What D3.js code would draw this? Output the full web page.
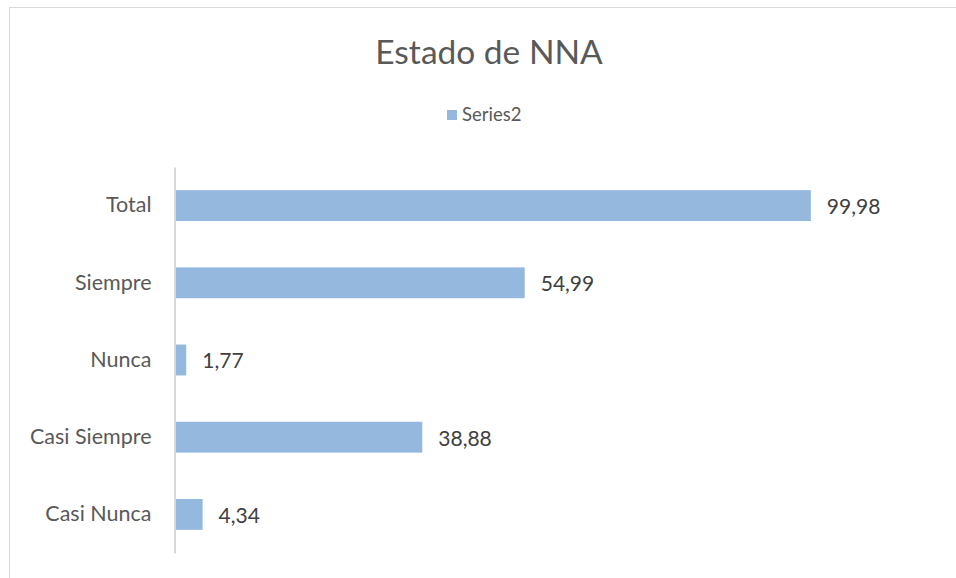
<!DOCTYPE html>
<html>
<head>
<meta charset="utf-8">
<script src="https://cdn.jsdelivr.net/npm/d3@7"></script>
<style>
 body { margin: 0; background: #fff; }
 svg { display: block; font-family: Lato, "Open Sans", sans-serif; }
</style>
</head>
<body>
<div id="chart"></div>
<script>
var categories = ["Total", "Siempre", "Nunca", "Casi Siempre", "Casi Nunca"];
var values = [99.98, 54.99, 1.77, 38.88, 4.34];
var labels = ["99,98", "54,99", "1,77", "38,88", "4,34"];
var seriesName = "Series2";
var title = "Estado de NNA";

var width = 956, height = 578;
var plotLeft = 175, plotRight = 811, plotTop = 167, plotBottom = 553;

var svg = d3.select("#chart").
 append("svg").
 attr("width", width).
 attr("height", height);

// chart border (right and bottom run off the picture)
svg.append("rect").
 attr("x", 9.5).attr("y", 7.5).
 attr("width", 960).attr("height", 590).
 attr("fill", "#fff").
 attr("stroke", "#d9d9d9").
 attr("stroke-width", 1);

var x = d3.scaleLinear().domain([0, 100]).range([plotLeft, plotRight]);
var y = d3.scaleBand().domain(categories).range([plotTop, plotBottom]).paddingInner(0.6).paddingOuter(0.3);

svg.append("text").
 attr("x", 489).attr("y", 64).
 attr("text-anchor", "middle").
 attr("font-size", 33.5).
 attr("fill", "#595959").
 text(title);

svg.append("rect").
 attr("x", 447).attr("y", 110).
 attr("width", 10).attr("height", 10).
 attr("fill", "#95b8df");
svg.append("text").
 attr("x", 462).attr("y", 121).
 attr("font-size", 18.5).
 attr("fill", "#595959").
 text(seriesName);

svg.selectAll(".bar").
 data(values).
 enter().append("rect").
 attr("class", "bar").
 attr("x", x(0)).
 attr("y", function(d, i){ return y(categories[i]); }).
 attr("width", function(d){ return x(d) - x(0); }).
 attr("height", y.bandwidth()).
 attr("fill", "#95b8df");

svg.selectAll(".val").
 data(values).
 enter().append("text").
 attr("class", "val").
 attr("x", function(d){ return x(d) + 16; }).
 attr("y", function(d, i){ return y(categories[i]) + y.bandwidth() / 2 + 1; }).
 attr("dy", "0.35em").
 attr("font-size", 21).
 attr("fill", "#404040").
 text(function(d, i){ return labels[i]; });

var yAxis = svg.append("g").
 attr("transform", "translate(" + (plotLeft - 0.5) + ",0)").
 call(d3.axisLeft(y).tickSize(0).tickPadding(23));
yAxis.select(".domain").attr("stroke", "#d9d9d9").attr("stroke-width", 2);
yAxis.selectAll("text").
 attr("font-size", 21.5).
 attr("font-family", "Lato, 'Open Sans', sans-serif").
 attr("fill", "#595959");
</script>
</body>
</html>
